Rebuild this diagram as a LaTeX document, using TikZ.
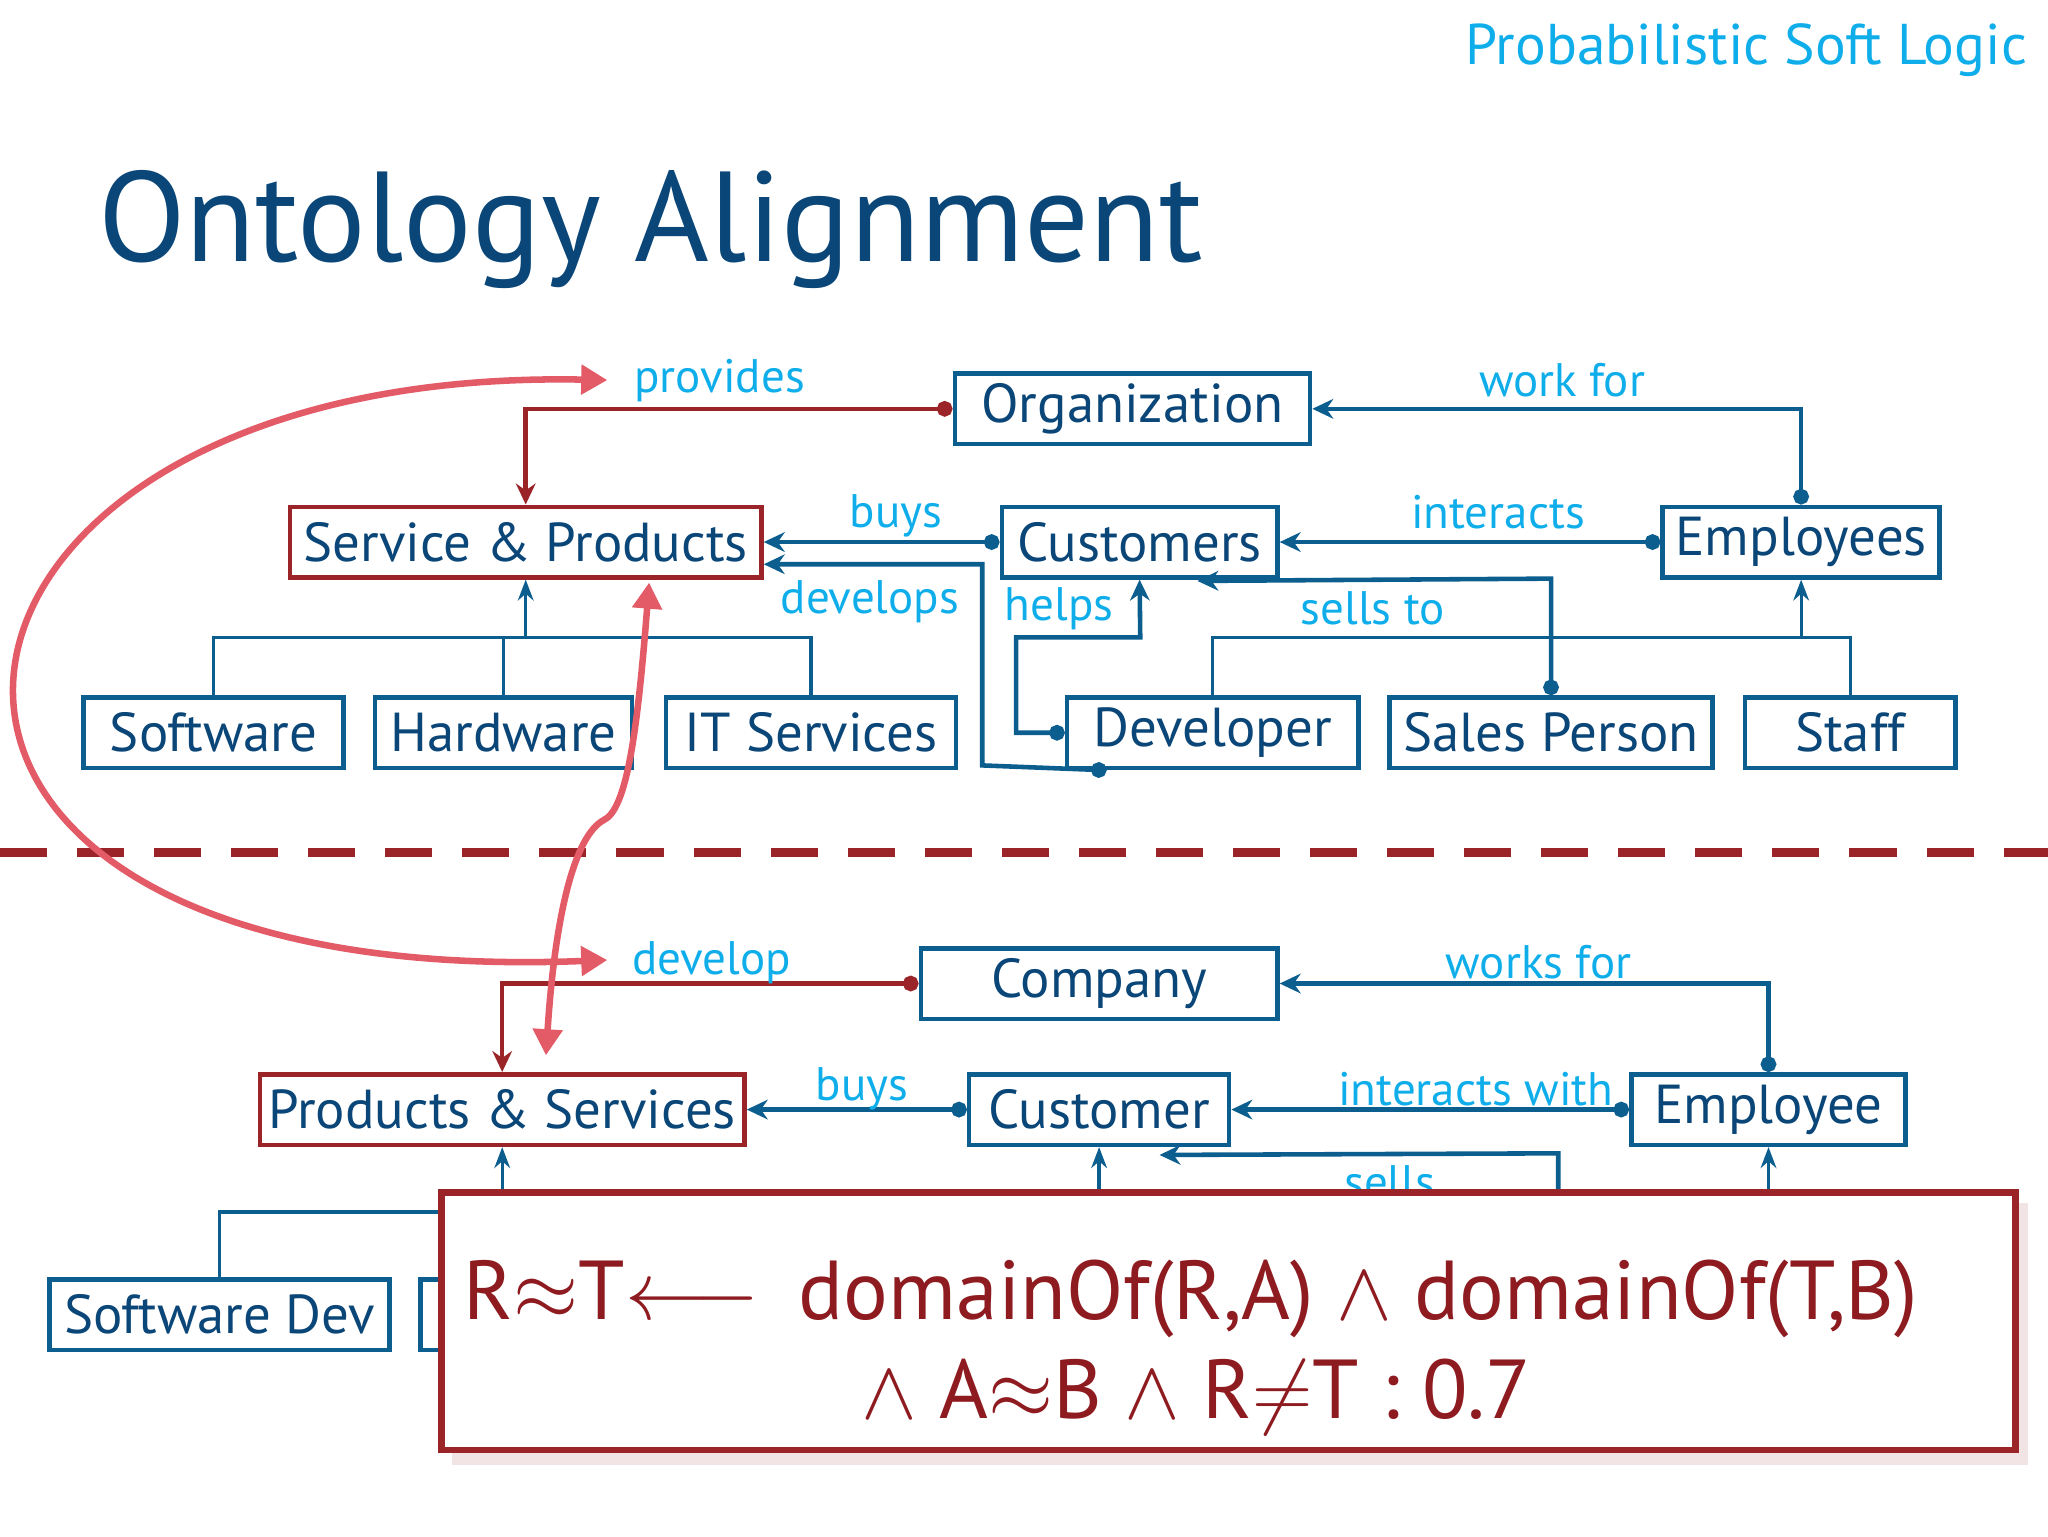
\RequirePackage{fix-cm}
\documentclass[tikz,border=0pt]{standalone}
\usepackage{fontspec}
\setmainfont{PT Sans}
\usetikzlibrary{arrows.meta,calc}
\definecolor{nblue}{HTML}{0B5E8E}
\definecolor{ntext}{HTML}{0A4677}
\definecolor{lblue}{HTML}{0FAEEA}
\definecolor{dred}{HTML}{9A2428}
\definecolor{fred}{HTML}{8E1B1F}
\definecolor{pink}{HTML}{E25B67}
\begin{document}
\begin{tikzpicture}[x=1pt,y=-1pt,
  box/.style={draw=nblue,line width=3.5pt,fill=white,inner sep=0pt,text=ntext,font=\fontsize{42}{46}\selectfont,minimum height=54pt},
  rbox/.style={box,draw=dred},
  conn/.style={draw=nblue,line width=3.5pt,{Circle[length=12pt]}-{Stealth[length=16pt,width=15pt]}},
  rconn/.style={conn,draw=dred},
  isa/.style={draw=nblue,line width=2.5pt,-{Stealth[length=16pt,width=12pt]}},
  lbl/.style={text=lblue,font=\fontsize{36}{40}\selectfont,inner sep=0pt},
  pinkarr/.style={draw=pink,line width=5pt,{Triangle[length=20pt,width=22pt]}-{Triangle[length=20pt,width=22pt]}}]
\useasboundingbox (0,0) rectangle (1568,1176);
% title
\node[anchor=east,text=lblue,font=\fontsize{44}{48}\selectfont,inner sep=0pt] (psl) at (1552,38) {Probabilistic Soft Logic};
\node[anchor=base west,text=ntext,font=\fontsize{98}{110}\selectfont,inner sep=0pt] (title) at (75,200) {Ontology Alignment};
% top ontology
\node[box,minimum width=272pt] (org) at (867,313) {Organization};
\node[rbox,minimum width=361pt] (sp) at (402.5,415) {Service \& Products};
\node[box,minimum width=211pt] (cust) at (872.5,415) {Customers};
\node[box,minimum width=212pt] (emp) at (1379,415) {Employees};
\node[box,minimum width=199pt] (sw) at (163.5,561) {Software};
\node[box,minimum width=197pt] (hw) at (385.5,561) {Hardware};
\node[box,minimum width=222pt] (its) at (621,561) {IT Services};
\node[box,minimum width=223pt] (dev) at (928.5,561) {Developer};
\node[box,minimum width=247pt] (sal) at (1187.5,561) {Sales Person};
\node[box,minimum width=161pt] (stf) at (1416.5,561) {Staff};
% isa top
\draw[draw=nblue,line width=2.5pt] (sw.north) -- (163.5,488) -- (621,488) -- (its.north);
\draw[draw=nblue,line width=2.5pt] (hw.north) -- (385.5,488);
\draw[isa] (402.5,488) -- (sp.south);
\draw[draw=nblue,line width=2.5pt] (dev.north) -- (928.5,488) -- (1416.5,488) -- (stf.north);
\draw[isa] (1379,488) -- (emp.south);
% relations top
\draw[rconn] (org.west) -| (sp.north);
\node[lbl] (lprov) at (551,291) {provides};
\draw[conn] (emp.north) |- (org.east);
\node[lbl] (lwork) at (1196,291) {work for};
\draw[conn] (cust.west) -- (sp.east);
\node[lbl] (lbuys) at (686,395) {buys};
\draw[conn] (emp.west) -- (cust.east);
\node[lbl] (lint) at (1147,392) {interacts};
\draw[conn] ($(dev.south west)+(32,0)$) -- (752,586) -- (752,432) -- ($(sp.east)+(0,17)$);
\node[lbl] (ldev) at (666,461) {develops};
\draw[conn] (dev.west) -- (778,561) -- (778,488) -- (873,488) -- (cust.south);
\node[lbl] (lhelp) at (811,466) {helps};
\draw[conn] (sal.north) -- (1187.5,443) -- ($(cust.south east)+(-63,1)$);
\node[lbl] (lsell) at (1051,466) {sells to};
% dashed separator
\draw[dred,line width=7pt,dash pattern=on 36pt off 23pt] (0,653) -- (1568,653);
% bottom ontology
\node[box,minimum width=273pt] (comp) at (841.5,753) {Company};
\node[rbox,minimum width=371pt] (ps) at (384.5,849.5) {Products \& Services};
\node[box,minimum width=199pt] (cus2) at (841.5,849.5) {Customer};
\node[box,minimum width=210pt] (emp2) at (1354,849.5) {Employee};
\node[box,minimum width=260pt] (swd) at (168,1006.5) {Software Dev};
\node[box,minimum width=240pt] (hid) at (442,1006.5) {};
\draw[rconn] (comp.west) -| (ps.north);
\node[lbl] (ldev2) at (545,737) {develop};
\draw[conn] (emp2.north) |- (comp.east);
\node[lbl] (lwork2) at (1178,737) {works for};
\draw[conn] (cus2.west) -- (ps.east);
\node[lbl] (lbuys2) at (660,834) {buys};
\draw[conn] (emp2.west) -- (cus2.east);
\node[lbl] (lint2) at (1130,834) {interacts with};
\draw[isa] (384.5,920) -- (ps.south);
\draw[isa] (841.5,920) -- (cus2.south);
\draw[isa] (1354,920) -- (emp2.south);
\draw[draw=nblue,line width=3.5pt,-{Stealth[length=16pt,width=15pt]}] (1193,920) -- (1193,883) -- ($(cus2.south east)+(-55,6)$);
\node[lbl] (lsell2) at (1064,905) {sells};
\draw[draw=nblue,line width=2.5pt] (swd.north) -- (168,928) -- (345,928);
% pink arrows
\draw[pinkarr] (465,291) .. controls (-100,280) and (-170,760) .. (465,735);
\draw[pinkarr] (497,446) .. controls (488,560) and (480,620) .. (462,628) .. controls (440,640) and (425,700) .. (418,808);
% formula box
\fill[dred!25,opacity=0.5] (346,921) rectangle (1553,1122);
\node[draw=dred,line width=5pt,fill=white,minimum width=1205pt,minimum height=197pt,inner sep=0pt] (fbox) at (940.5,1011.5) {};
\node[anchor=base west,text=fred,font=\fontsize{64}{72}\selectfont,inner sep=0pt] (f1) at (355,1010) {R$\approx$T$\longleftarrow$\hspace{30pt}domainOf(R,A) $\wedge$ domainOf(T,B)};
\node[anchor=base,text=fred,font=\fontsize{64}{72}\selectfont,inner sep=0pt] (f2) at (916,1086) {$\wedge$ A$\approx$B $\wedge$ R$\neq$T : 0.7};
\end{tikzpicture}
\end{document}
